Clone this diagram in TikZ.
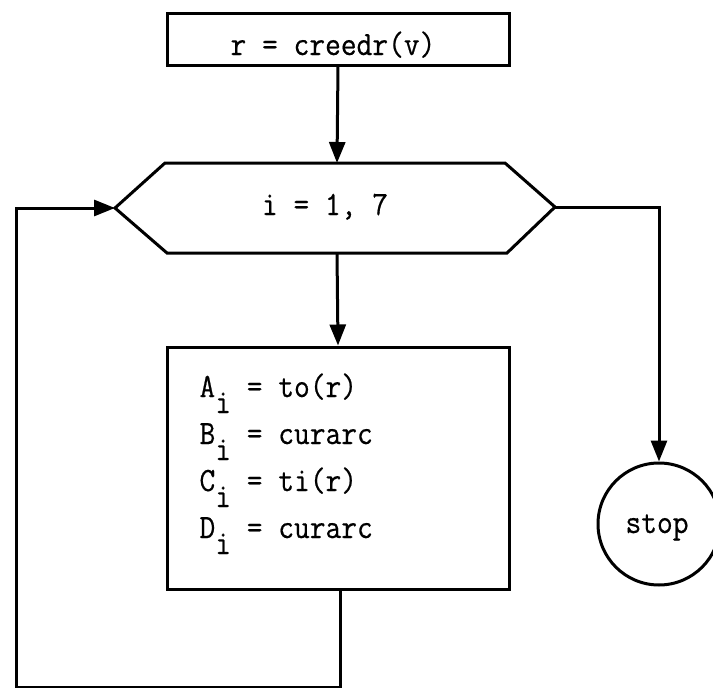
\documentclass[tikz,border=0pt]{standalone}
\usepackage{fontspec}
\newfontfamily\tw[FakeStretch=0.9,FakeBold=0.5]{Latin Modern Mono}
\usetikzlibrary{arrows.meta}
\begin{document}
\begin{tikzpicture}[x=1pt,y=-1pt,
  line width=3pt,
  flow/.style={-{Triangle[length=21pt,width=16pt]}},
  txt/.style={font=\tw\fontsize{34}{34}\selectfont, inner sep=0pt},
  box/.style={draw, rectangle, inner sep=0pt}]
\useasboundingbox (0,0) rectangle (713,688);

% initial assignment
\node[box, minimum width=342pt, minimum height=52pt] (init) at (338,39) {};
\node[txt, anchor=base] (initT) at (333,55) {r = creedr(v)};

% loop header (hexagon)
\coordinate (hexL) at (115,208);
\coordinate (hexR) at (555,207);
\coordinate (hexT) at (337,163);
\coordinate (hexB) at (337,253);
\draw[line join=miter] (hexL) -- (165,163) -- (505,163) -- (hexR) -- (507,253) -- (167,253) -- cycle;
\node[txt, anchor=base] (hex) at (325,215) {i = 1, 7};

% loop body
\node[box, minimum width=342pt, minimum height=242pt] (body) at (338,468) {};
\node[txt, anchor=base west] (rowA) at (198,397) {A\raisebox{-16pt}{i} = to(r)};
\node[txt, anchor=base west] (rowB) at (198,444) {B\raisebox{-16pt}{i} = curarc};
\node[txt, anchor=base west] (rowC) at (198,491) {C\raisebox{-16pt}{i} = ti(r)};
\node[txt, anchor=base west] (rowD) at (198,538) {D\raisebox{-16pt}{i} = curarc};

% terminal
\node[draw, circle, minimum size=122pt, inner sep=0pt] (stop) at (659,524) {};
\node[txt, anchor=base] (stopT) at (657,533) {stop};

% connectors
\draw[flow] (init.south) -- (hexT);
\draw[flow] (hexB) -- (body.north);
\draw[flow] (hexR) -| (stop.north);
\coordinate (loopEnd) at (16,687.8);
\draw[flow] ([xshift=2pt]body.south) |- (loopEnd) |- (hexL);
\end{tikzpicture}
\end{document}
